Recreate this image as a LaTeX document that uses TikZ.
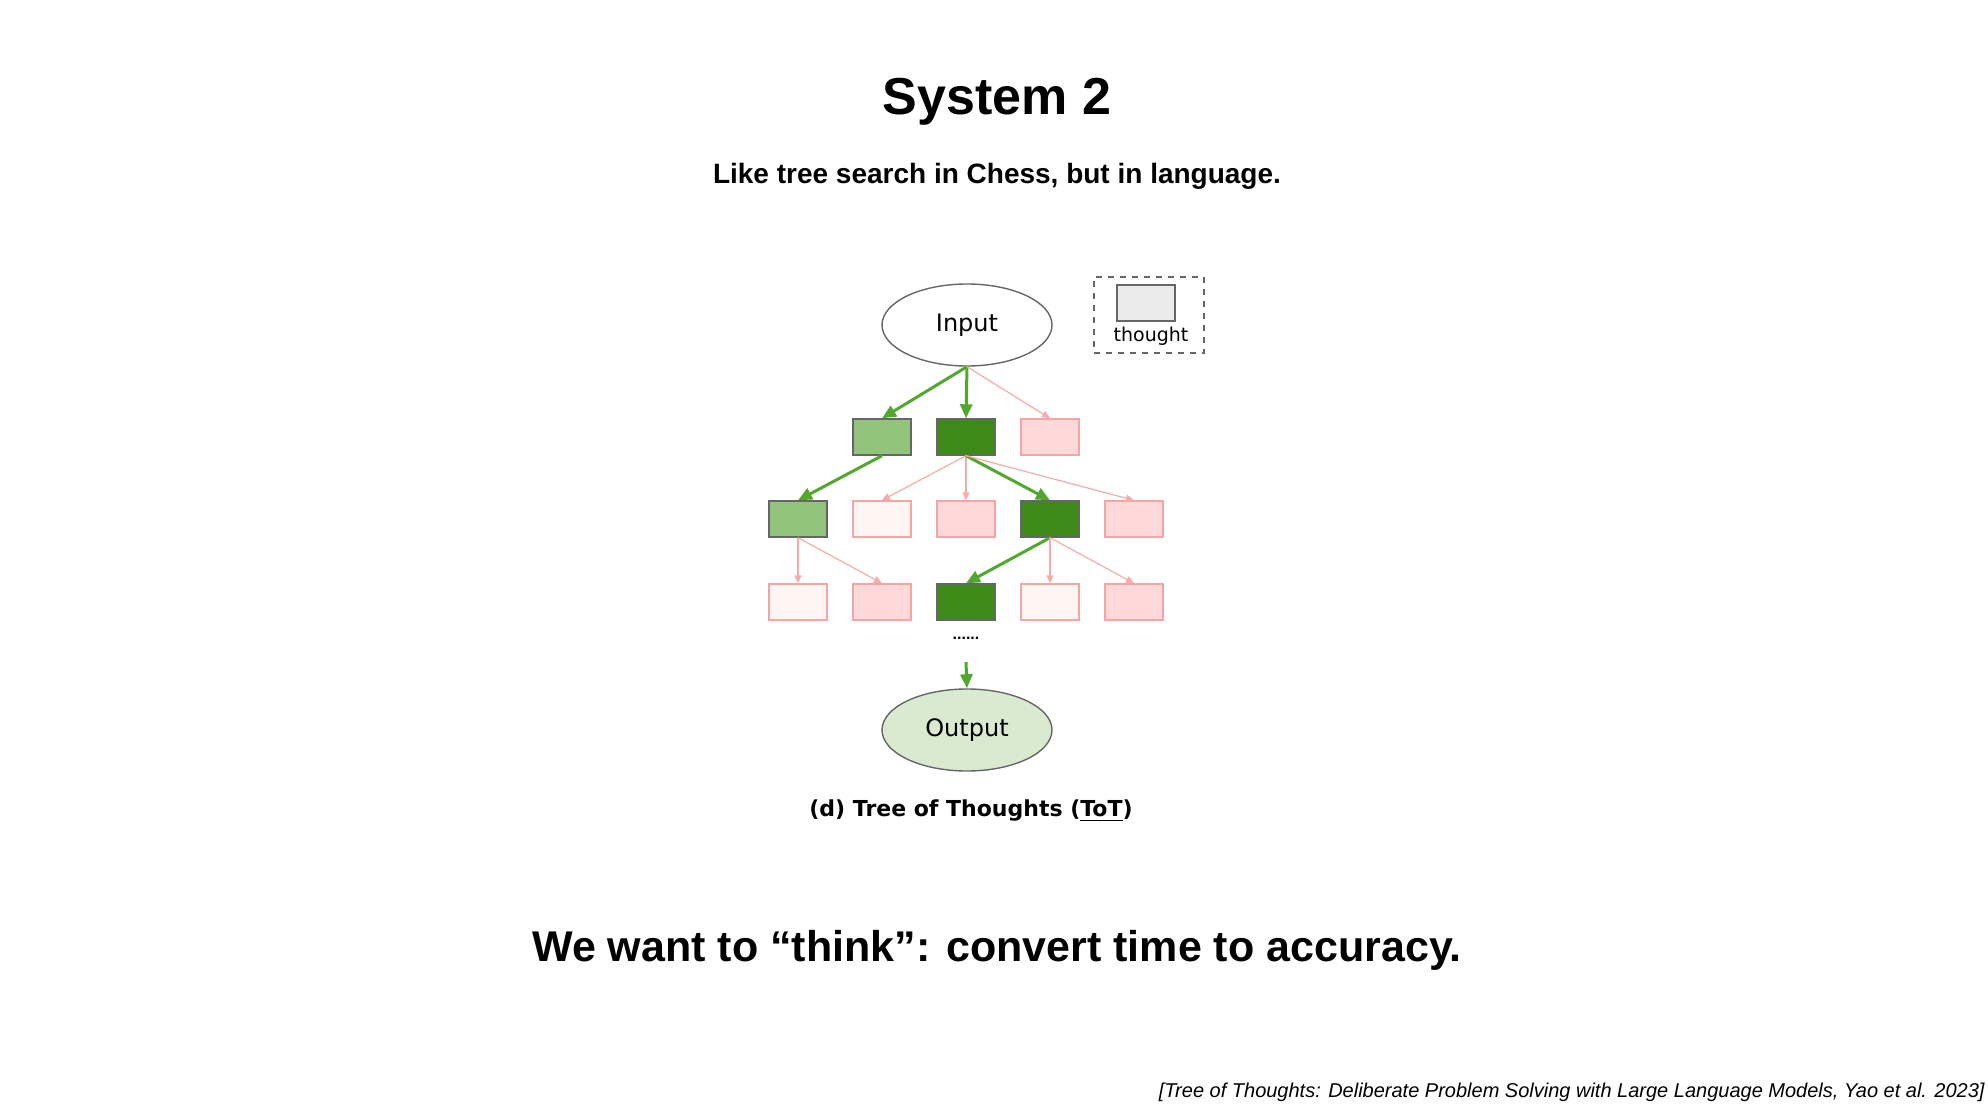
\documentclass[tikz,border=0pt]{standalone}
\usepackage{fontspec}
\setmainfont{Liberation Sans}
\newfontfamily\djfont{DejaVu Sans}
\usetikzlibrary{shapes.geometric,arrows.meta}
\definecolor{lg}{HTML}{93C47D}
\definecolor{dg}{HTML}{3D8A18}
\definecolor{pk}{HTML}{FFD9D9}
\definecolor{pkb}{HTML}{F4A6A6}
\definecolor{vl}{HTML}{FFF5F3}
\definecolor{gacol}{HTML}{52A82F}
\definecolor{pacol}{HTML}{F6ABAB}
\begin{document}
\begin{tikzpicture}[x=0.5pt,y=-0.5pt,
 box/.style={draw,minimum width=29pt,minimum height=18pt,inner sep=0pt,line width=0.7pt},
 gbox/.style={box,draw=black!60},
 pbox/.style={box,draw=pkb},
 ell/.style={ellipse,draw=black!60,line width=0.7pt,minimum width=85pt,minimum height=41pt,inner sep=0pt,font=\djfont\fontsize{12}{14}\selectfont},
 garr/.style={-{Triangle[length=7pt,width=6pt]},draw=gacol,line width=1.5pt},
 parr/.style={-{Triangle[length=4pt,width=3.5pt]},draw=pacol,line width=0.6pt}]
\useasboundingbox (0,0) rectangle (1988,1118);
\node[font=\bfseries\fontsize{26}{30}\selectfont] (t) at (997,102) {System 2};
\node[font=\bfseries\fontsize{14}{17}\selectfont] (st) at (997,176) {Like tree search in Chess, but in language.};
\node[ell] (in) at (967,325) {Input};
\node[ell,fill=lg!35] (out) at (967,730) {Output};
\node[draw=black!60,dashed,line width=0.6pt,minimum width=55pt,minimum height=38pt,inner sep=0pt] (leg) at (1149,315) {};
\node[draw=black!60,fill=black!8,line width=0.7pt,minimum width=29pt,minimum height=18pt,inner sep=0pt] (lr) at (1146,303) {};
\node[font=\djfont\fontsize{9.5}{11}\selectfont] (lt) at (1151,336) {thought};
% row 1
\node[gbox,fill=lg] (a1) at (882,437) {};
\node[gbox,fill=dg] (a2) at (966,437) {};
\node[pbox,fill=pk] (a3) at (1050,437) {};
% row 2
\node[gbox,fill=lg] (b1) at (798,519) {};
\node[pbox,fill=vl] (b2) at (882,519) {};
\node[pbox,fill=pk] (b3) at (966,519) {};
\node[gbox,fill=dg] (b4) at (1050,519) {};
\node[pbox,fill=pk] (b5) at (1134,519) {};
% row 3
\node[pbox,fill=vl] (c1) at (798,602) {};
\node[pbox,fill=pk] (c2) at (882,602) {};
\node[gbox,fill=dg] (c3) at (966,602) {};
\node[pbox,fill=vl] (c4) at (1050,602) {};
\node[pbox,fill=pk] (c5) at (1134,602) {};
\node[font=\bfseries\fontsize{8}{9}\selectfont] (dots) at (966,638) {......};
\coordinate (dd) at (966,662);
% edges
\draw[garr] (in.south) -- (a1.north);
\draw[garr] (in.south) -- (a2.north);
\draw[parr] (in.south) -- (a3.north);
\draw[garr] (a1.south) -- (b1.north);
\draw[parr] (a2.south) -- (b2.north);
\draw[parr] (a2.south) -- (b3.north);
\draw[garr] (a2.south) -- (b4.north);
\draw[parr] (a2.south) -- (b5.north);
\draw[parr] (b1.south) -- (c1.north);
\draw[parr] (b1.south) -- (c2.north);
\draw[garr] (b4.south) -- (c3.north);
\draw[parr] (b4.south) -- (c4.north);
\draw[parr] (b4.south) -- (c5.north);
\draw[garr] (dd) -- (out.north);
\node[font=\djfont\bfseries\fontsize{11}{14}\selectfont] (cap) at (971,811) {(d) Tree of Thoughts (\underline{ToT})};
\node[font=\bfseries\fontsize{21.5}{26}\selectfont] (bt) at (997,950) {We want to “think”: convert time to accuracy.};
\node[anchor=east,font=\itshape\fontsize{10}{12}\selectfont,inner sep=0pt] (cit) at (1985,1092) {[Tree of Thoughts: Deliberate Problem Solving with Large Language Models, Yao et al. 2023]};
\end{tikzpicture}
\end{document}
